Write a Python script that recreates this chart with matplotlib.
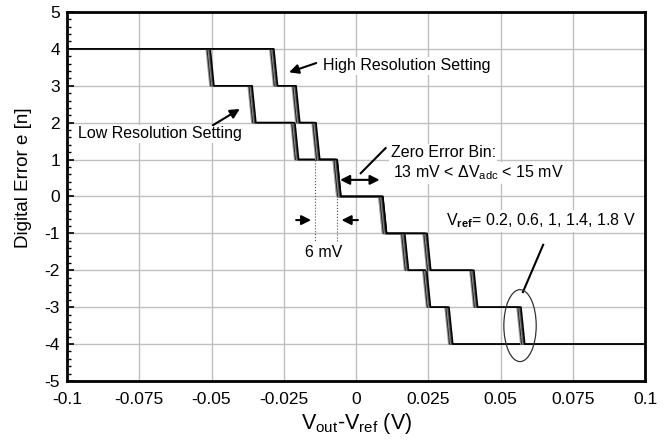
import numpy as np
import matplotlib.pyplot as plt
from matplotlib.patches import Ellipse
from matplotlib.ticker import MultipleLocator

plt.rcParams['font.family'] = ['Liberation Sans', 'DejaVu Sans']
plt.rcParams['mathtext.fontset'] = 'custom'
plt.rcParams['mathtext.rm'] = 'Liberation Sans'
plt.rcParams['mathtext.bf'] = 'Liberation Sans:bold'
plt.rcParams['mathtext.it'] = 'Liberation Sans:italic'
plt.rcParams['mathtext.default'] = 'regular'
plt.rcParams['axes.unicode_minus'] = False

# error levels and step positions (V)
levels = [4, 3, 2, 1, 0, -1, -2, -3, -4]
steps_low = [-0.0505, -0.0360, -0.0212, -0.0066, 0.0092, 0.0168, 0.0244, 0.0321]
steps_high = [-0.0285, -0.0208, -0.0139, -0.0066, 0.0092, 0.0245, 0.0407, 0.0570]
vref = [0.2, 0.6, 1.0, 1.4, 1.8]
vref_shift = [-0.0007, -0.00035, 0.0, 0.00035, 0.0007]   # spread of the Vref curves
line_colors = ['0.6', '0.15', '0.55', '0.25', '0.0']
slant = 0.0013   # width of one transition


def curve(steps, shift):
    xs = [-0.1]
    ys = [levels[0]]
    for k, s in enumerate(steps):
        xs += [s + shift - slant / 2, s + shift + slant / 2]
        ys += [levels[k], levels[k + 1]]
    xs.append(0.1)
    ys.append(levels[-1])
    return xs, ys


fig = plt.figure(figsize=(6.7, 4.43), dpi=100)
ax = fig.add_axes([0.1, 0.14, 0.863, 0.833])

for steps in [steps_low, steps_high]:
    for sh, c in zip(vref_shift, line_colors):
        x, y = curve(steps, sh)
        ax.plot(x, y, color=c, lw=1.1, zorder=3)

ax.set_xlim(-0.1, 0.1)
ax.set_ylim(-5, 5)
ax.set_xticks(np.arange(-0.1, 0.1001, 0.025))
ax.set_xticklabels(['-0.1', '-0.075', '-0.05', '-0.025', '0', '0.025', '0.05', '0.075', '0.1'])
ax.set_yticks(range(-5, 6))
ax.yaxis.set_minor_locator(MultipleLocator(0.2))
ax.tick_params(axis='x', length=0, pad=8, labelsize=12.5)
ax.tick_params(axis='y', which='major', direction='in', length=5, width=1.2, pad=5, labelsize=12.5)
ax.tick_params(axis='y', which='minor', direction='in', length=3, width=1)
ax.grid(True, color='0.75', lw=1, zorder=0)
for sp in ax.spines.values():
    sp.set_linewidth(2)

ax.set_xlabel('V$_{out}$-V$_{ref}$ (V)', fontsize=15.5, labelpad=3)
ax.set_ylabel('Digital Error e [n]', fontsize=13.5)
ax.yaxis.set_label_coords(-0.06, 0.55)

box = dict(facecolor='white', edgecolor='none', pad=1)
arrow = dict(arrowstyle='-|>', color='black', lw=1.5, mutation_scale=14)

ax.text(-0.0113, 3.54, 'High Resolution Setting', fontsize=11.5, va='center', bbox=box, zorder=4)
ax.annotate('', xy=(-0.0241, 3.34), xytext=(-0.0129, 3.64), arrowprops=arrow, zorder=4)

ax.text(-0.0962, 1.7, 'Low Resolution Setting', fontsize=11.5, va='center', bbox=box, zorder=4)
ax.annotate('', xy=(-0.0394, 2.41), xytext=(-0.0504, 1.89), arrowprops=arrow, zorder=4)

ax.text(0.012, 1.18, 'Zero Error Bin:', fontsize=11.5, va='center', bbox=box, zorder=4)
ax.text(0.0127, 0.64, '13 mV < ΔV$_{adc}$ < 15 mV', fontsize=11.5, va='center', bbox=box, zorder=4)
ax.annotate('', xy=(-0.0065, 0.45), xytext=(0.0091, 0.45),
            arrowprops=dict(arrowstyle='<|-|>', color='black', lw=1.5, mutation_scale=14), zorder=4)
ax.plot([0.0016, 0.0102], [0.63, 1.31], color='black', lw=1.5, zorder=4)

# 6 mV marker
ax.plot([-0.0141, -0.0141], [1.0, -1.2], color='0.3', lw=0.8, ls=':', zorder=2)
ax.plot([-0.0065, -0.0065], [0.5, -1.2], color='0.3', lw=0.8, ls=':', zorder=2)
ax.annotate('', xy=(-0.0146, -0.64), xytext=(-0.0217, -0.64), arrowprops=arrow, zorder=4)
ax.annotate('', xy=(-0.0060, -0.64), xytext=(0.0016, -0.64), arrowprops=arrow, zorder=4)
ax.text(-0.0113, -1.53, '6 mV', fontsize=11.5, ha='center', va='center', zorder=4)

ax.text(0.031, -0.66, 'V$_{\\mathbf{ref}}$= ' + ', '.join('%g' % v for v in vref) + ' V',
        fontsize=11.5, va='center', bbox=box, zorder=4)
ax.plot([0.0647, 0.0577], [-1.31, -2.59], color='black', lw=1.5, zorder=4)
ax.add_patch(Ellipse((0.0567, -3.5), 0.0112, 1.95, fill=False, edgecolor='0.2', lw=0.9, zorder=4))

fig.savefig('out.png', dpi=100)
